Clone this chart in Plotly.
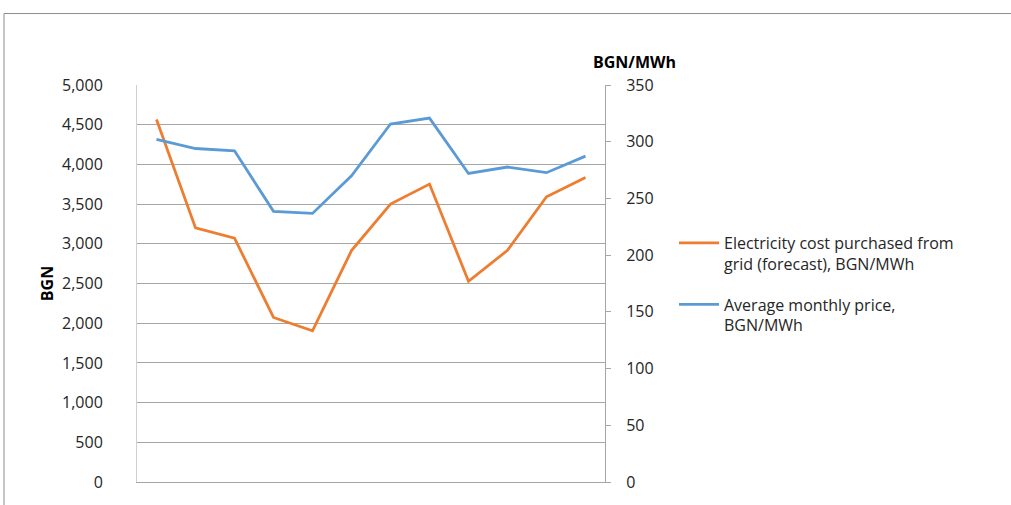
import plotly.graph_objects as go

months = ["1", "2", "3", "4", "5", "6", "7", "8", "9", "10", "11", "12"]
cost_forecast = [4565, 3200, 3072, 2072, 1905, 2915, 3500, 3752, 2528, 2918, 3592, 3835]
avg_price = [302, 294, 292, 238.6, 236.8, 270, 315.6, 320.8, 272, 277.7, 272.7, 287.3]

name_cost = "Electricity cost purchased from<br>grid (forecast), BGN/MWh"
name_price = "Average monthly price,<br>BGN/MWh"

FONT = "Open Sans"
TXT = "#262626"
GRID = "#a6a6a6"

fig = go.Figure()
fig.add_trace(go.Scatter(x=months, y=cost_forecast, name=name_cost, mode="lines",
                         line=dict(color="#ED7D31", width=2.8), yaxis="y", legendgroup="a"))
fig.add_trace(go.Scatter(x=months, y=avg_price, name=name_price, mode="lines",
                         line=dict(color="#5B9BD5", width=2.8), yaxis="y2", legendgroup="b"))

L, R, T, B = 137, 605, 85, 485
W, H = 1011, 505
pw, ph = R - L, B - T

fig.update_layout(
    width=W, height=H,
    margin=dict(l=L, r=W - R, t=T, b=H - B, pad=0),
    paper_bgcolor="white", plot_bgcolor="white",
    font=dict(family=FONT, size=16, color=TXT),
    showlegend=True,
    legend=dict(x=(674 - L) / pw, y=(485 - 227) / ph, xanchor="left", yanchor="top",
                font=dict(family=FONT, size=16, color=TXT), valign="top",
                traceorder="grouped", tracegroupgap=17, itemwidth=40,
                bgcolor="rgba(0,0,0,0)"),
    xaxis=dict(type="category", showticklabels=False, showgrid=False, ticks="",
               showline=True, linecolor=GRID, linewidth=1, zeroline=False,
               range=[-0.5, 11.5], mirror=False),
    yaxis=dict(range=[0, 5000], dtick=500, tickformat=",", showgrid=True,
               gridcolor=GRID, gridwidth=1, zeroline=False, ticks="",
               ticklabelstandoff=30, showline=True, linecolor="#d0d0d0",
               tickfont=dict(family=FONT, size=16, color=TXT),
               title=dict(text="<b>BGN</b>", standoff=4,
                          font=dict(family=FONT, size=16, color="#000"))),
    yaxis2=dict(range=[0, 350], dtick=50, overlaying="y", side="right",
                showgrid=False, zeroline=False, ticks="outside", ticklen=5,
                tickcolor=GRID, showline=True, linecolor=GRID, linewidth=1,
                ticklabelstandoff=12,
                tickfont=dict(family=FONT, size=16, color=TXT)),
)

fig.add_annotation(text="<b>BGN/MWh</b>", xref="paper", yref="paper",
                   x=(634 - L) / pw, y=(485 - 62) / ph, showarrow=False,
                   xanchor="center", yanchor="middle",
                   font=dict(family=FONT, size=16, color="#000"))

# outer chart frame
fig.add_shape(type="rect", xref="paper", yref="paper",
              x0=(4 - L) / pw, x1=(1060 - L) / pw,
              y0=(485 - 540) / ph, y1=(485 - 13) / ph,
              line=dict(color="#8c8c8c", width=1), fillcolor="rgba(0,0,0,0)",
              layer="below")

fig.write_html("out.html", config={"displayModeBar": False},
               post_script="document.body.style.margin='0';document.body.style.overflow='hidden';")
